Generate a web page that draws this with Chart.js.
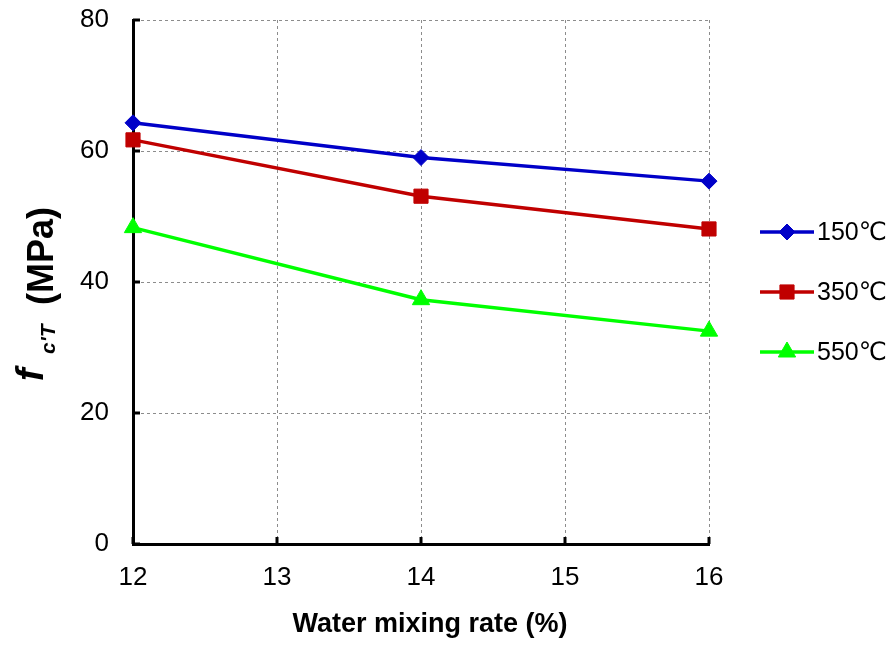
<!DOCTYPE html>
<html>
<head>
<meta charset="utf-8">
<script src="https://cdn.jsdelivr.net/npm/chart.js@4/dist/chart.umd.min.js"></script>
<style>
  body { margin: 0; background: #fff; }
  canvas { display: block; }
</style>
</head>
<body>
<canvas id="chart" width="892" height="646"></canvas>
<script>
// Compressive strength after heating vs. water mixing rate.
const waterRate = [12, 14, 16];
const strength150 = [64.3, 59.0, 55.4];
const strength350 = [61.7, 53.1, 48.1];
const strength550 = [48.3, 37.3, 32.5];
const seriesLabels = ['150℃', '350℃', '550℃'];
const xTicks = [12, 13, 14, 15, 16];
const yTicks = [0, 20, 40, 60, 80];

const FONT = "Arial, 'Liberation Sans', 'DejaVu Sans', sans-serif";

function toPoints(values) {
  return waterRate.map((x, i) => ({ x: x, y: values[i] }));
}

function series(label, values, color, style, radius) {
  return {
    label: label,
    data: toPoints(values),
    borderColor: color,
    backgroundColor: color,
    borderWidth: 3.5,
    pointStyle: style,
    pointRadius: radius,
    pointHoverRadius: radius,
    pointBorderWidth: 1,
    showLine: true,
    clip: false,
    tension: 0
  };
}

// Small tick marks pointing into the plot area.
const innerTicks = {
  id: 'innerTicks',
  afterDraw(chart) {
    const ctx = chart.ctx;
    const x = chart.scales.x;
    const y = chart.scales.y;
    const area = chart.chartArea;
    ctx.save();
    ctx.strokeStyle = '#000';
    ctx.lineWidth = 3;
    ctx.beginPath();
    xTicks.forEach((t) => {
      const px = x.getPixelForValue(t);
      ctx.moveTo(px, area.bottom);
      ctx.lineTo(px, area.bottom - 7);
    });
    yTicks.forEach((t) => {
      const py = y.getPixelForValue(t);
      ctx.moveTo(area.left, py);
      ctx.lineTo(area.left + 7, py);
    });
    ctx.stroke();
    ctx.restore();
  }
};

// Axis titles, the y one has an italic subscripted symbol.
const axisTitles = {
  id: 'axisTitles',
  afterDraw(chart) {
    const ctx = chart.ctx;
    ctx.save();
    ctx.fillStyle = '#000';
    ctx.font = 'bold 27px ' + FONT;
    ctx.textAlign = 'center';
    ctx.textBaseline = 'middle';
    ctx.fillText('Water mixing rate (%)', 430, 625);

    ctx.rotate(-Math.PI / 2);
    ctx.textAlign = 'left';
    ctx.textBaseline = 'alphabetic';
    ctx.font = 'italic bold 38px ' + FONT;
    ctx.fillText('f', -381, 43);
    ctx.font = 'italic bold 21px ' + FONT;
    ctx.fillText("c'T", -354, 55);
    ctx.font = 'bold 36px ' + FONT;
    ctx.fillText('(MPa)', -305, 53);
    ctx.restore();
  }
};

// Legend on the right: line with marker, then label.
const sideLegend = {
  id: 'sideLegend',
  afterDraw(chart) {
    const ctx = chart.ctx;
    ctx.save();
    chart.data.datasets.forEach((ds, i) => {
      const ly = 232 + i * 60;
      ctx.strokeStyle = ds.borderColor;
      ctx.fillStyle = ds.backgroundColor;
      ctx.lineWidth = 3.5;
      ctx.beginPath();
      ctx.moveTo(760, ly);
      ctx.lineTo(814, ly);
      ctx.stroke();
      ctx.lineWidth = 1;
      Chart.helpers.drawPoint(ctx, {
        pointStyle: ds.pointStyle,
        radius: ds.pointRadius,
        borderWidth: 1,
        rotation: 0
      }, 787, ly);
      ctx.fillStyle = '#000';
      ctx.font = '25px ' + FONT;
      ctx.textAlign = 'left';
      ctx.textBaseline = 'middle';
      ctx.fillText(ds.label, 817, ly + 1);
    });
    ctx.restore();
  }
};

const ctx = document.getElementById('chart');
const chart = new Chart(ctx, {
  type: 'scatter',
  data: {
    datasets: [
      series(seriesLabels[0], strength150, '#0000C8', 'rectRot', 8),
      series(seriesLabels[1], strength350, '#C00000', 'rect', 10),
      series(seriesLabels[2], strength550, '#00FF00', 'triangle', 10)
    ]
  },
  options: {
    responsive: false,
    animation: false,
    events: [],
    layout: { padding: { top: 20, right: 183, left: 0, bottom: 0 } },
    plugins: {
      legend: { display: false },
      tooltip: { enabled: false }
    },
    scales: {
      x: {
        type: 'linear',
        min: 12,
        max: 16,
        afterFit: (scale) => {
          scale.height = 102;
          scale.paddingLeft = 0;
          scale.paddingRight = 0;
        },
        afterBuildTicks: (scale) => { scale.ticks = xTicks.map((v) => ({ value: v })); },
        ticks: {
          padding: 18,
          color: '#000',
          font: { size: 26, family: FONT }
        },
        grid: { color: '#8c8c8c', lineWidth: 1, drawTicks: false },
        border: { display: true, color: '#000', width: 3, dash: [3, 3] }
      },
      y: {
        min: 0,
        max: 80,
        afterFit: (scale) => {
          scale.width = 133;
          scale.paddingTop = 0;
          scale.paddingBottom = 0;
        },
        afterBuildTicks: (scale) => { scale.ticks = yTicks.map((v) => ({ value: v })); },
        ticks: {
          padding: 24,
          color: '#000',
          font: { size: 26, family: FONT }
        },
        grid: { color: '#8c8c8c', lineWidth: 1, drawTicks: false },
        border: { display: true, color: '#000', width: 3, dash: [3, 3] }
      }
    }
  },
  plugins: [innerTicks, axisTitles, sideLegend]
});
</script>
</body>
</html>
